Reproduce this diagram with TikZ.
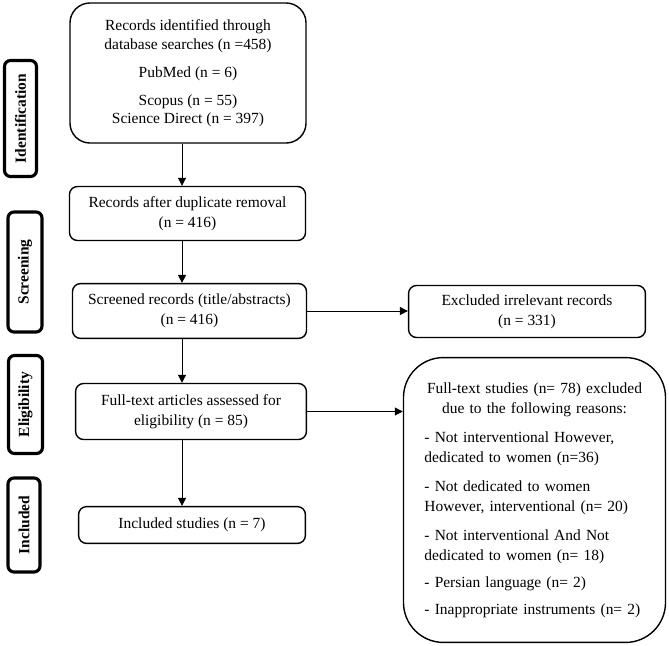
\documentclass[tikz,border=0pt]{standalone}
\usepackage{fontspec}
\setmainfont{Liberation Serif}
\setlength{\parindent}{0pt}
\usetikzlibrary{positioning,arrows.meta}
\tikzset{
  box/.style={rectangle,rounded corners=0.2cm,draw=black,line width=1pt,align=center,inner sep=2pt,font=\fontsize{11}{14}\selectfont},
  stagebox/.style={rectangle,rounded corners=0.15cm,draw=black,line width=2.2pt,rotate=90,inner sep=2pt,font=\fontsize{11}{13}\selectfont\bfseries},
  edge/.style={-{Triangle[length=2mm,width=2mm]},line width=0.7pt}
}
\begin{document}
\begin{tikzpicture}[x=0.025cm,y=-0.025cm]
  \useasboundingbox (0,0) rectangle (669,645);
  % stage labels
  \node[stagebox,minimum width=2.9cm,minimum height=0.8cm] (tagident) at (20.5,118.5) {Identification};
  \node[stagebox,minimum width=3.0cm,minimum height=0.85cm] (tagscreen) at (25,272) {Screening};
  \node[stagebox,minimum width=2.45cm,minimum height=0.85cm] (tagelig) at (25.5,404.5) {Eligibility};
  \node[stagebox,minimum width=2.35cm,minimum height=0.8cm] (tagincl) at (24,525) {Included};
  % main column
  \node[box,rounded corners=0.5cm,minimum width=5.9cm,minimum height=3.5cm] (ident) at (188,73)
    {Records identified through\\database searches (n =458)\\[6pt]PubMed (n = 6)\\[6pt]Scopus (n = 55)\\[-1.5pt]Science Direct (n = 397)};
  \node[box,minimum width=5.9cm,minimum height=1.35cm] (dedup) at (187.5,213.5) {Records after duplicate removal\\(n = 416)};
  \node[box,minimum width=5.85cm,minimum height=1.37cm] (screen) at (189.5,311) {Screened records (title/abstracts)\\(n = 416)};
  \node[box,minimum width=5.77cm,minimum height=1.4cm] (fulltext) at (191,411.5) {Full-text articles assessed for\\eligibility (n = 85)};
  \node[box,minimum width=5.67cm,minimum height=0.92cm] (incl) at (192,525) {Included studies (n = 7)};
  % exclusions
  \node[box,minimum width=5.92cm,minimum height=1.3cm] (excl) at (527,311.5) {Excluded irrelevant records\\(n = 331)};
  \node[box,rounded corners=1cm,align=left,text width=5.5cm,minimum width=6.55cm,minimum height=7.12cm] (reasons) at (534.5,500)
    {{\centering Full-text studies (n= 78) excluded\\due to the following reasons:\par}\vspace{7pt}
     - Not interventional However,\\dedicated to women (n=36)\\[7pt]
     - Not dedicated to women\\However, interventional (n= 20)\\[7pt]
     - Not interventional And Not\\dedicated to women (n= 18)\\[5pt]
     - Persian language (n= 2)\\[5pt]
     - Inappropriate instruments (n= 2)};
  \coordinate (spine) at (182,0);
  \draw[edge] (ident.south -| spine) -- (dedup.north -| spine);
  \draw[edge] (dedup.south -| spine) -- (screen.north -| spine);
  \draw[edge] (screen.south -| spine) -- (fulltext.north -| spine);
  \draw[edge] (fulltext.south -| spine) -- (incl.north -| spine);
  \draw[edge] (screen.east) -- (screen.east -| excl.west);
  \draw[edge] (fulltext.east) -- (fulltext.east -| reasons.west);
\end{tikzpicture}
\end{document}
